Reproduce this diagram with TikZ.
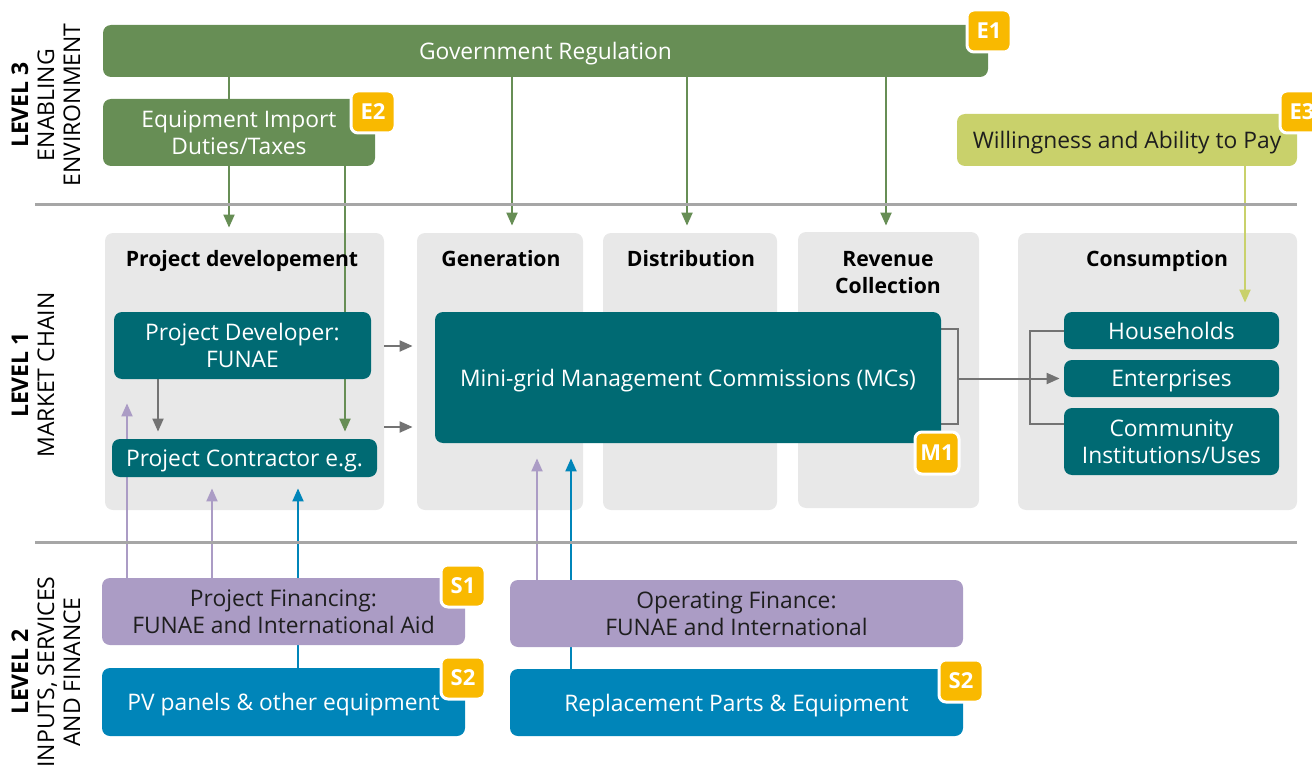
\documentclass[tikz,border=0pt]{standalone}
\usepackage{fontspec}
\setmainfont{Open Sans}
\usetikzlibrary{arrows.meta}

\definecolor{govgreen}{HTML}{678E55}
\definecolor{paygreen}{HTML}{C9D16B}
\definecolor{mcteal}{HTML}{006A73}
\definecolor{panelgray}{HTML}{E8E8E8}
\definecolor{finpurple}{HTML}{AB9CC5}
\definecolor{supblue}{HTML}{0085B9}
\definecolor{tagyellow}{HTML}{F9B900}
\definecolor{flowgray}{HTML}{737373}
\definecolor{sepgray}{HTML}{A6A6A6}
\definecolor{darktext}{HTML}{1E1E1E}

\pgfdeclarelayer{back}
\pgfdeclarelayer{mid}
\pgfsetlayers{back,mid,main}

\begin{document}
\begin{tikzpicture}[x=0.5pt,y=-0.5pt,
	every node/.style={font=\fontsize{11.4}{13.5}\selectfont},
	box/.style={rounded corners=4pt, align=center, inner sep=0pt, text depth=0pt},
	envbox/.style={box, fill=govgreen, text=white},
	paybox/.style={box, fill=paygreen, text=darktext},
	chainbox/.style={box, fill=mcteal, text=white},
	finbox/.style={box, fill=finpurple, text=darktext},
	supbox/.style={box, fill=supblue, text=white},
	panel/.style={rounded corners=4pt, fill=panelgray, inner sep=0pt},
	header/.style={font=\fontsize{10.6}{13.5}\selectfont\bfseries, align=center, text depth=0pt},
	tag/.style={rounded corners=3.5pt, fill=tagyellow, draw=white, line width=1.5pt,
		text=white, font=\fontsize{11}{13}\selectfont\bfseries, minimum width=22pt,
		minimum height=21pt, inner sep=0pt},
	level/.style={rotate=90, align=center, font=\fontsize{11.5}{13}\selectfont},
	flow/.style={line width=1pt, -{Triangle[length=6.5pt,width=5.5pt]}},
	greenflow/.style={flow, govgreen},
	grayflow/.style={flow, flowgray},
	purpleflow/.style={flow, finpurple},
	blueflow/.style={flow, supblue},
	sepline/.style={sepgray, line width=1.5pt}
	]
	
	\useasboundingbox (0,0) rectangle (1312,765);
	
	% Level labels
	\node[level] (lev3) at (46,105) {\textbf{LEVEL 3}\\ENABLING\\ENVIRONMENT};
	\node[level] (lev1) at (33,375) {\textbf{LEVEL 1}\\MARKET CHAIN};
	\node[level] (lev2) at (46,672) {\textbf{LEVEL 2}\\INPUTS, SERVICES\\AND FINANCE};
	
	% Separators
	\draw[sepline] (35,204) -- (1297,204);
	\draw[sepline] (35,542) -- (1297,542);
	
	% Enabling environment
	\node[envbox, minimum width=442.5pt, minimum height=26pt] (gov) at (545.5,51) {Government Regulation};
	\node[envbox, minimum width=136pt, minimum height=33.5pt] (equip) at (239,132.5) {Equipment Import\\Duties/Taxes};
	\node[paybox, minimum width=170pt, minimum height=26pt] (pay) at (1127,140) {Willingness and Ability to Pay};
	\node[tag] (e1) at (989,31) {E1};
	\node[tag] (e2) at (373,112) {E2};
	\node[tag] (e3) at (1302,112) {E3};
	
	% Market chain panels
	\begin{pgfonlayer}{back}
		\node[panel, minimum width=139.5pt, minimum height=138.5pt] (pd) at (244.5,371.5) {};
		\node[panel, minimum width=83pt, minimum height=138.5pt] (gen) at (500,371.5) {};
		\node[panel, minimum width=87pt, minimum height=138.5pt] (dist) at (690,371.5) {};
		\node[panel, minimum width=90.5pt, minimum height=138pt] (rev) at (888.5,370) {};
		\node[panel, minimum width=139.5pt, minimum height=138.5pt] (cons) at (1157.5,371.5) {};
	\end{pgfonlayer}
	\node[header] (hpd) at (242,258) {Project developement};
	\node[header] (hgen) at (501,258) {Generation};
	\node[header] (hdist) at (691,258) {Distribution};
	\node[header] (hrev) at (888,272) {Revenue\\Collection};
	\node[header] (hcons) at (1157,258) {Consumption};
	
	% Market chain actors
	\node[chainbox, minimum width=128.5pt, minimum height=33.5pt] (dev) at (242.5,345.5) {Project Developer:\\FUNAE};
	\node[chainbox, minimum width=132.5pt, minimum height=19pt] (contr) at (244.5,458) {Project Contractor e.g.};
	\node[chainbox, minimum width=253pt, minimum height=65.5pt] (mc) at (688,377.5) {Mini-grid Management Commissions (MCs)};
	\node[chainbox, minimum width=107.5pt, minimum height=18.5pt] (hh) at (1171.5,330.5) {Households};
	\node[chainbox, minimum width=107.5pt, minimum height=18.5pt] (ent) at (1171.5,378.5) {Enterprises};
	\node[chainbox, minimum width=107.5pt, minimum height=33.5pt] (com) at (1171.5,441.5) {Community\\Institutions/Uses};
	\node[tag] (m1) at (937,453) {M1};
	
	% Inputs, services and finance
	\node[finbox, minimum width=181.5pt, minimum height=33.5pt] (fin) at (283.5,611.5) {Project Financing:\\FUNAE and International Aid};
	\node[supbox, minimum width=181.5pt, minimum height=34pt] (pv) at (283.5,702) {PV panels \& other equipment};
	\node[finbox, minimum width=226.5pt, minimum height=33.5pt] (opf) at (736.5,613.5) {Operating Finance:\\FUNAE and International};
	\node[supbox, minimum width=226.5pt, minimum height=33.5pt] (rep) at (736.5,702.5) {Replacement Parts \& Equipment};
	\node[tag] (s1) at (463,586) {S1};
	\node[tag] (s2a) at (463,678) {S2};
	\node[tag] (s2b) at (961,681) {S2};
	
	% Connectors
	\begin{pgfonlayer}{mid}
		\draw[govgreen, line width=1pt] (229,0 |- gov.south) -- (229,0 |- equip.north);
		\draw[greenflow, shorten >=2.5pt] (229,0 |- equip.south) -- (229,0 |- pd.north);
		\draw[greenflow, shorten >=3.5pt] (345,0 |- equip.south) -- (345,0 |- contr.north);
		\draw[greenflow, shorten >=3.5pt] (512,0 |- gov.south) -- (512,0 |- gen.north);
		\draw[greenflow, shorten >=3.5pt] (687,0 |- gov.south) -- (687,0 |- dist.north);
		\draw[greenflow, shorten >=3pt] (886,0 |- gov.south) -- (886,0 |- rev.north);
		\draw[flow, paygreen, shorten >=4.5pt] (1245,0 |- pay.south) -- (1245,0 |- hh.north);
		
		\draw[grayflow, shorten >=3.5pt] (158,0 |- dev.south) -- (158,0 |- contr.north);
		\draw[grayflow, shorten >=2pt] (pd.east |- 0,346) -- (gen.west |- 0,346);
		\draw[grayflow, shorten >=2pt] (pd.east |- 0,427) -- (gen.west |- 0,427);
		\draw[flowgray, line width=1pt] (mc.east |- 0,329) -- (958,329) -- (958,424) -- (mc.east |- 0,424);
		\draw[flowgray, line width=1pt] (hh.west) -- (1030,330.5) -- (1030,424) -- (com.west |- 0,424);
		\draw[grayflow, shorten >=2pt] (958,378.5) -- (ent.west);
		
		\draw[purpleflow, shorten >=12pt] (127,0 |- fin.north) -- (127,0 |- dev.south);
		\draw[purpleflow, shorten >=5.5pt] (212,0 |- fin.north) -- (212,0 |- contr.south);
		\draw[blueflow, shorten >=5.5pt] (298,0 |- pv.north) -- (298,0 |- contr.south);
		\draw[purpleflow, shorten >=7.5pt] (537,0 |- opf.north) -- (537,0 |- mc.south);
		\draw[blueflow, shorten >=7.5pt] (571,0 |- rep.north) -- (571,0 |- mc.south);
	\end{pgfonlayer}
\end{tikzpicture}
\end{document}
